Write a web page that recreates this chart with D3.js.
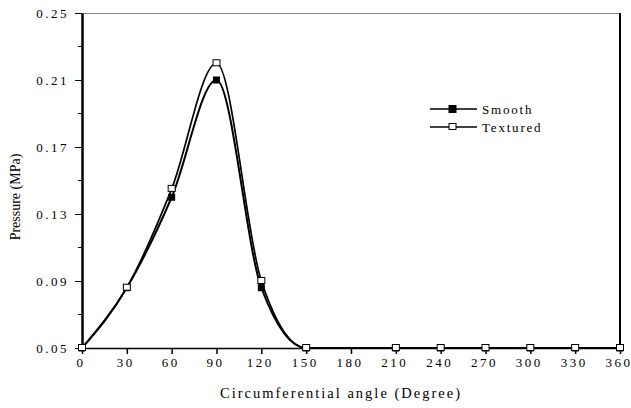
<!DOCTYPE html>
<html>
<head>
<meta charset="utf-8">
<script src="https://cdn.jsdelivr.net/npm/d3@7"></script>
<style>
    body { margin: 0; background: #fff; }
    svg text { font-family: 'Liberation Serif', 'Times New Roman', serif; fill: #000; }
</style>
</head>
<body>
<svg id="chart" width="631" height="408"></svg>
<script>
// Data
const angles = [0, 30, 60, 90, 120, 150, 210, 240, 270, 300, 330, 360];
const smoothValues = [0.05, 0.086, 0.140, 0.210, 0.086, 0.05, 0.05, 0.05, 0.05, 0.05, 0.05, 0.05];
const texturedValues = [0.05, 0.086, 0.145, 0.220, 0.090, 0.05, 0.05, 0.05, 0.05, 0.05, 0.05, 0.05];
const xTicks = [0, 30, 60, 90, 120, 150, 180, 210, 240, 270, 300, 330, 360];
const yTicks = [0.05, 0.09, 0.13, 0.17, 0.21, 0.25];
const yMinorTicks = [0.07, 0.11, 0.15, 0.19, 0.23];

/**
 * Visual configs.
 */
const plot = { left: 82, right: 620, top: 13, bottom: 348 };

const svg = d3.select('#chart');

const xScale = d3.scaleLinear().domain([0, 360]).range([plot.left, plot.right]),
    yScale = d3.scaleLinear().domain([0.05, 0.25]).range([plot.bottom, plot.top]);

// Frame: light top, thick right
svg.append('line')
    .attr('x1', plot.left).attr('x2', plot.right)
    .attr('y1', plot.top + 0.5).attr('y2', plot.top + 0.5)
    .attr('stroke', '#888').attr('stroke-width', 1);
svg.append('line')
    .attr('x1', plot.right).attr('x2', plot.right)
    .attr('y1', plot.top).attr('y2', plot.bottom)
    .attr('stroke', '#000').attr('stroke-width', 2);

// Axes
const xAxis = d3.axisBottom(xScale).tickValues(xTicks).tickSize(6).tickSizeOuter(0).tickPadding(4);
const yAxis = d3.axisLeft(yScale).tickValues(yTicks).tickSize(7).tickSizeOuter(0).tickPadding(6)
    .tickFormat(d3.format('.2f'));

const gx = svg.append('g').attr('transform', 'translate(0,' + plot.bottom + ')').call(xAxis);
gx.select('.domain').attr('stroke', '#000').attr('stroke-width', 1.5);
gx.selectAll('.tick line').attr('stroke', '#000').attr('stroke-width', 1.5);
gx.selectAll('.tick text')
    .attr('font-size', 13).attr('letter-spacing', '2.5px')
    .attr('dx', '-1.5px')
    .style('font-family', "'Liberation Serif', serif");

const gy = svg.append('g').attr('transform', 'translate(' + plot.left + ',0)').call(yAxis);
gy.select('.domain').attr('stroke', '#000').attr('stroke-width', 2.5);
gy.selectAll('.tick line').attr('stroke', '#000').attr('stroke-width', 1);
gy.selectAll('.tick text')
    .attr('font-size', 13).attr('letter-spacing', '2.5px')
    .style('font-family', "'Liberation Serif', serif");

// Minor y ticks
svg.append('g').selectAll('line').data(yMinorTicks).join('line')
    .attr('x1', plot.left - 4).attr('x2', plot.left)
    .attr('y1', d => yScale(d)).attr('y2', d => yScale(d))
    .attr('stroke', '#000').attr('stroke-width', 1);

// Axis titles
svg.append('text')
    .attr('x', 341).attr('y', 398)
    .attr('text-anchor', 'middle')
    .attr('font-size', 14.5).attr('letter-spacing', '2px')
    .text('Circumferential angle (Degree)');

svg.append('text')
    .attr('transform', 'translate(20,197) rotate(-90)')
    .attr('text-anchor', 'middle')
    .attr('font-size', 14)
    .text('Pressure (MPa)');

// Series
const line = d3.line()
    .x(d => xScale(d[0]))
    .y(d => yScale(d[1]))
    .curve(d3.curveMonotoneX);

const smoothData = angles.map((a, i) => [a, smoothValues[i]]),
    texturedData = angles.map((a, i) => [a, texturedValues[i]]);

svg.append('path').datum(smoothData)
    .attr('d', line).attr('fill', 'none')
    .attr('stroke', '#000').attr('stroke-width', 2);
svg.append('path').datum(texturedData)
    .attr('d', line).attr('fill', 'none')
    .attr('stroke', '#000').attr('stroke-width', 1.7);

svg.append('g').selectAll('rect').data(smoothData).join('rect')
    .attr('x', d => xScale(d[0]) - 3.5).attr('y', d => yScale(d[1]) - 3.5)
    .attr('width', 7).attr('height', 7)
    .attr('fill', '#000');

svg.append('g').selectAll('rect').data(texturedData).join('rect')
    .attr('x', d => xScale(d[0]) - 3.5).attr('y', d => yScale(d[1]) - 3.5)
    .attr('width', 7).attr('height', 6)
    .attr('fill', '#fff').attr('stroke', '#000').attr('stroke-width', 1);

// Legend
const legendItems = [
    { label: 'Smooth', filled: true, y: 109 },
    { label: 'Textured', filled: false, y: 127 }
];
const legend = svg.append('g').selectAll('g').data(legendItems).join('g')
    .attr('transform', d => 'translate(430,' + d.y + ')');
legend.append('line')
    .attr('x1', 0).attr('x2', 47)
    .attr('stroke', '#000').attr('stroke-width', 1.5);
legend.append('rect')
    .attr('x', 19).attr('y', -3.5)
    .attr('width', 7).attr('height', d => d.filled ? 7 : 6)
    .attr('fill', d => d.filled ? '#000' : '#fff')
    .attr('stroke', '#000').attr('stroke-width', 1);
legend.append('text')
    .attr('x', 52).attr('dy', '0.35em')
    .attr('font-size', 13).attr('letter-spacing', '1.8px')
    .text(d => d.label);
</script>
</body>
</html>
